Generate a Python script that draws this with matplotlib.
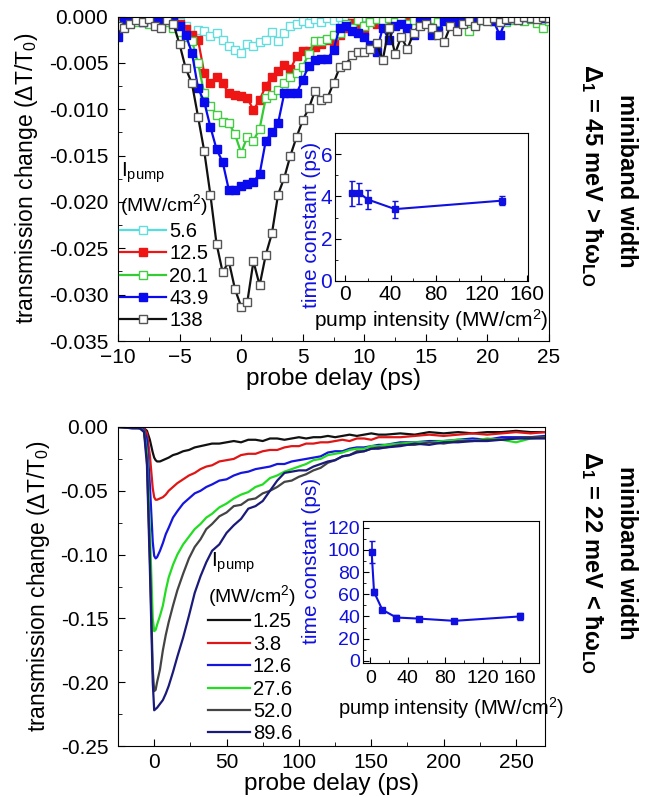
import numpy as np
import matplotlib
matplotlib.use("Agg")
import matplotlib.pyplot as plt
from matplotlib.ticker import MultipleLocator, FormatStrFormatter

plt.rcParams["font.family"] = ["Liberation Sans", "DejaVu Sans"]
plt.rcParams["mathtext.fontset"] = "custom"
plt.rcParams["mathtext.rm"] = "Liberation Sans"
plt.rcParams["mathtext.it"] = "Liberation Sans:italic"

# ---------------- top panel: 45 meV miniband, delay grid in ps ----------------
delay_top = np.arange(-10, 25.01, 0.5)

labels_top = ["5.6", "12.5", "20.1", "43.9", "138"]

dt_5p6 = [-0.0002, -0.0004, -0.0001, -0.0003, -0.0002, -0.0005, -0.0001, -0.0003, -0.0004, -0.0002,
          -0.0006, -0.0010, -0.0021, -0.0015, -0.0016, -0.0021, -0.0018, -0.0025, -0.0032, -0.0036,
          -0.0039, -0.0030, -0.0032, -0.0028, -0.0025, -0.0017, -0.0026, -0.0018, -0.0010, -0.0008,
          -0.0005, -0.0007, -0.0003, -0.0006, -0.0002, -0.0004, -0.0001, -0.0003, -0.0005, -0.0002,
          -0.0001, -0.0004, -0.0002, -0.0003, -0.0001, -0.0002, -0.0004, -0.0001, -0.0002, -0.0003,
          -0.0001, -0.0002, -0.0001, -0.0003, -0.0002, -0.0001, -0.0002, -0.0001, -0.0003, -0.0001,
          -0.0002, -0.0001, -0.0002, -0.0001, -0.0001, -0.0002, -0.0001, -0.0002, -0.0001, -0.0001,
          -0.0002]

dt_12p5 = [-0.0003, -0.0002, -0.0005, -0.0003, -0.0001, -0.0004, -0.0002, -0.0006, -0.0002, -0.0005,
           -0.0008, -0.0014, -0.0020, -0.0025, -0.0061, -0.0072, -0.0065, -0.0072, -0.0083, -0.0085,
           -0.0086, -0.0088, -0.0101, -0.0090, -0.0075, -0.0065, -0.0059, -0.0052, -0.0057, -0.0043,
           -0.0037, -0.0037, -0.0033, -0.0030, -0.0025, -0.0027, -0.0020, -0.0012, -0.0007, -0.0010,
           -0.0016, -0.0005, -0.0008, -0.0003, -0.0010, -0.0004, -0.0003, -0.0006, -0.0002, -0.0004,
           -0.0002, -0.0005, -0.0001, -0.0003, -0.0002, -0.0004, -0.0001, -0.0002, -0.0003, -0.0001,
           -0.0002, -0.0004, -0.0001, -0.0002, -0.0001, -0.0003, -0.0001, -0.0002, -0.0001, -0.0002,
           -0.0001]

dt_20p1 = [-0.0008, -0.0004, -0.0002, -0.0006, -0.0003, -0.0008, -0.0005, -0.0010, -0.0006, -0.0012,
           -0.0017, -0.0022, -0.0026, -0.0050, -0.0083, -0.0096, -0.0106, -0.0114, -0.0115, -0.0127,
           -0.0147, -0.0130, -0.0134, -0.0121, -0.0088, -0.0085, -0.0079, -0.0072, -0.0065, -0.0061,
           -0.0054, -0.0040, -0.0026, -0.0026, -0.0024, -0.0020, -0.0018, -0.0008, -0.0012, -0.0004,
           -0.0010, -0.0006, -0.0003, -0.0005, -0.0002, -0.0006, -0.0003, -0.0008, -0.0004, -0.0002,
           -0.0005, -0.0003, -0.0006, -0.0004, -0.0002, -0.0005, -0.0003, -0.0016, -0.0008, -0.0004,
           -0.0002, -0.0005, -0.0003, -0.0006, -0.0004, -0.0002, -0.0005, -0.0003, -0.0007, -0.0012,
           -0.0005]

dt_43p9 = [-0.0022, -0.0005, -0.0004, -0.0002, -0.0006, -0.0002, -0.0004, -0.0005, -0.0003, -0.0005,
           -0.0010, -0.0020, -0.0039, -0.0077, -0.0092, -0.0119, -0.0143, -0.0157, -0.0187, -0.0187,
           -0.0183, -0.0181, -0.0178, -0.0170, -0.0134, -0.0125, -0.0115, -0.0083, -0.0083, -0.0083,
           -0.0068, -0.0053, -0.0047, -0.0046, -0.0046, -0.0036, -0.0012, -0.0010, -0.0016, -0.0018,
           -0.0022, -0.0031, -0.0038, -0.0012, -0.0025, -0.0010, -0.0008, -0.0012, -0.0020, -0.0006,
           -0.0004, -0.0020, -0.0016, -0.0005, -0.0003, -0.0006, -0.0002, -0.0004, -0.0006, -0.0003,
           -0.0002, -0.0005, -0.0020, -0.0004, -0.0002, -0.0003, -0.0001, -0.0002, -0.0001, -0.0002,
           -0.0001]

dt_138 = [-0.0010, -0.0012, -0.0008, -0.0004, -0.0006, -0.0003, -0.0010, -0.0012, -0.0004, -0.0008,
          -0.0030, -0.0056, -0.0072, -0.0108, -0.0145, -0.0192, -0.0245, -0.0276, -0.0264, -0.0294,
          -0.0313, -0.0308, -0.0264, -0.0290, -0.0257, -0.0234, -0.0192, -0.0174, -0.0150, -0.0130,
          -0.0112, -0.0099, -0.0080, -0.0090, -0.0088, -0.0072, -0.0055, -0.0052, -0.0042, -0.0038,
          -0.0038, -0.0035, -0.0029, -0.0047, -0.0012, -0.0040, -0.0022, -0.0035, -0.0018, -0.0010,
          -0.0008, -0.0012, -0.0020, -0.0027, -0.0010, -0.0016, -0.0008, -0.0005, -0.0010, -0.0004,
          -0.0005, -0.0002, -0.0006, -0.0003, -0.0002, -0.0004, -0.0001, -0.0002, -0.0003, -0.0001,
          -0.0002]

# inset: time constant vs pump intensity
pump_top = [5.6, 12.5, 20.1, 43.9, 138]
tau_top = [4.15, 4.15, 3.85, 3.4, 3.8]
tau_top_err = [0.6, 0.5, 0.45, 0.4, 0.2]

# ---------------- bottom panel: 22 meV miniband ----------------
delay_bot = [-25, -15, -10, -7, -5, -3, -1, 0, 1, 2, 4, 6, 8, 10, 13, 16, 20, 24, 28, 32,
             36, 40, 45, 50, 55, 60, 65, 70, 75, 80, 85, 90, 95, 100, 105, 110, 115, 120, 125, 130,
             135, 140, 145, 150, 155, 160, 170, 180, 190, 200, 210, 220, 230, 240, 250, 260, 270]

labels_bot = ["1.25", "3.8", "12.6", "27.6", "52.0", "89.6"]

dt_1p25 = [0.000, 0.000, 0.000, -0.001, -0.003, -0.010, -0.020, -0.024, -0.026, -0.027,
           -0.027, -0.026, -0.025, -0.024, -0.022, -0.021, -0.019, -0.018, -0.016, -0.015,
           -0.014, -0.013, -0.013, -0.012, -0.011, -0.012, -0.010, -0.010, -0.011, -0.009,
           -0.009, -0.010, -0.009, -0.008, -0.009, -0.008, -0.008, -0.007, -0.008, -0.007,
           -0.006, -0.007, -0.006, -0.005, -0.006, -0.006, -0.005, -0.006, -0.004, -0.005,
           -0.004, -0.005, -0.004, -0.004, -0.003, -0.004, -0.004]

dt_3p8 = [0.000, 0.000, 0.000, -0.001, -0.005, -0.022, -0.048, -0.055, -0.057, -0.057,
          -0.056, -0.055, -0.053, -0.050, -0.047, -0.044, -0.041, -0.038, -0.036, -0.033,
          -0.031, -0.030, -0.027, -0.026, -0.025, -0.022, -0.021, -0.021, -0.019, -0.018,
          -0.018, -0.016, -0.015, -0.015, -0.013, -0.013, -0.012, -0.012, -0.011, -0.010,
          -0.011, -0.009, -0.009, -0.010, -0.008, -0.008, -0.008, -0.007, -0.006, -0.007,
          -0.006, -0.005, -0.006, -0.005, -0.004, -0.005, -0.004]

dt_12p6 = [0.000, 0.000, -0.001, -0.002, -0.010, -0.045, -0.090, -0.101, -0.103, -0.102,
           -0.097, -0.091, -0.084, -0.079, -0.071, -0.066, -0.060, -0.056, -0.052, -0.050,
           -0.047, -0.045, -0.042, -0.041, -0.038, -0.036, -0.035, -0.033, -0.032, -0.031,
           -0.029, -0.029, -0.027, -0.026, -0.025, -0.024, -0.023, -0.020, -0.019, -0.019,
           -0.017, -0.016, -0.016, -0.015, -0.014, -0.014, -0.012, -0.012, -0.011, -0.011,
           -0.010, -0.009, -0.010, -0.008, -0.008, -0.008, -0.007]

dt_27p6 = [0.000, 0.000, -0.001, -0.003, -0.020, -0.080, -0.150, -0.160, -0.159, -0.155,
           -0.148, -0.140, -0.128, -0.118, -0.108, -0.100, -0.092, -0.086, -0.080, -0.076,
           -0.071, -0.068, -0.063, -0.060, -0.056, -0.053, -0.051, -0.047, -0.045, -0.040,
           -0.038, -0.035, -0.033, -0.031, -0.029, -0.026, -0.025, -0.022, -0.021, -0.020,
           -0.018, -0.017, -0.017, -0.015, -0.015, -0.014, -0.013, -0.012, -0.012, -0.011,
           -0.010, -0.011, -0.009, -0.010, -0.012, -0.009, -0.008]

dt_52p0 = [0.000, -0.001, -0.001, -0.003, -0.025, -0.100, -0.190, -0.207, -0.206, -0.200,
           -0.190, -0.175, -0.163, -0.153, -0.140, -0.128, -0.115, -0.103, -0.094, -0.088,
           -0.080, -0.076, -0.070, -0.067, -0.062, -0.061, -0.057, -0.056, -0.052, -0.050,
           -0.047, -0.043, -0.042, -0.039, -0.037, -0.034, -0.032, -0.028, -0.026, -0.023,
           -0.022, -0.019, -0.019, -0.017, -0.016, -0.016, -0.014, -0.014, -0.012, -0.013,
           -0.011, -0.011, -0.010, -0.010, -0.009, -0.008, -0.008]

dt_89p6 = [0.000, -0.001, -0.001, -0.004, -0.030, -0.110, -0.200, -0.222, -0.221, -0.220,
           -0.217, -0.214, -0.209, -0.203, -0.192, -0.180, -0.165, -0.148, -0.130, -0.117,
           -0.106, -0.097, -0.092, -0.083, -0.077, -0.072, -0.064, -0.062, -0.058, -0.050,
           -0.042, -0.036, -0.035, -0.034, -0.034, -0.031, -0.029, -0.027, -0.026, -0.023,
           -0.022, -0.020, -0.019, -0.017, -0.017, -0.016, -0.015, -0.013, -0.014, -0.012,
           -0.012, -0.011, -0.011, -0.010, -0.009, -0.009, -0.009]

pump_bot = [1.25, 3.8, 12.6, 27.6, 52.0, 89.6, 160]
tau_bot = [98, 62, 46, 39, 38, 36, 40]
tau_bot_err = [10, 3, 1.5, 2.5, 1.5, 1.5, 3]

W, H = 652, 797
fig = plt.figure(figsize=(W / 100, H / 100), dpi=100)


def fbox(l, t, r, b):
    # pixel box -> figure fraction rect
    return [l / W, 1 - b / H, (r - l) / W, (b - t) / H]


blue = "#1010e0"
title_units = "(MW/cm$^\\mathregular{2}$)"


def style_main(ax):
    ax.tick_params(which="both", direction="in", top=False, right=False)
    ax.tick_params(axis="x", labelsize=15, pad=5)
    ax.tick_params(axis="y", labelsize=15, pad=7)
    ax.tick_params(which="major", length=5)
    ax.tick_params(which="minor", length=3)
    ax.set_xlabel("probe delay (ps)", fontsize=17.5, labelpad=1)
    ax.set_ylabel("transmission change (ΔT/T$_\\mathregular{0}$)", fontsize=16.5, labelpad=6)


def style_inset(ax, fs_tick, fs_lab, xpad, lpad):
    ax.tick_params(which="both", direction="in", top=False, right=False)
    ax.tick_params(axis="x", labelsize=fs_tick, pad=xpad)
    ax.tick_params(axis="y", labelsize=fs_tick, pad=2, labelcolor=blue)
    ax.tick_params(which="major", length=4)
    ax.tick_params(which="minor", length=2)
    ax.xaxis.set_major_locator(MultipleLocator(40))
    ax.xaxis.set_minor_locator(MultipleLocator(20))
    ax.set_xlabel("pump intensity (MW/cm$^\\mathregular{2}$)", fontsize=fs_lab, labelpad=lpad)


# ---- top main axes ----
ax1 = fig.add_axes(fbox(118, 16.5, 549, 341))
top_series = [dt_5p6, dt_12p5, dt_20p1, dt_43p9, dt_138]
top_colors = ["#55dede", "#ee1515", "#33cc33", "#0a0aee", "#111111"]
top_face = ["white", "#ee1515", "white", "#0a0aee", "white"]
top_edge = ["#66dddd", "#ee1515", "#44cc44", "#0a0aee", "#555555"]
for y, lab, c, fc, ec in zip(top_series, labels_top, top_colors, top_face, top_edge):
    ax1.plot(delay_top, y, color=c, lw=1.6, marker="s", ms=5.5, mfc=fc, mec=ec,
             mew=1.0, label=lab)
ax1.set_xlim(-10, 25)
ax1.set_ylim(-0.035, 0.0)
ax1.xaxis.set_major_locator(MultipleLocator(5))
ax1.xaxis.set_minor_locator(MultipleLocator(2.5))
ax1.yaxis.set_major_locator(MultipleLocator(0.005))
ax1.yaxis.set_minor_locator(MultipleLocator(0.0025))
ax1.yaxis.set_major_formatter(FormatStrFormatter("%.3f"))
style_main(ax1)
ax1.text(0.008, 0.52, "I$_\\mathregular{pump}$", transform=ax1.transAxes, fontsize=15,
         ha="left", va="center")
ax1.legend(loc="upper left", bbox_to_anchor=(0.004, 0.458), frameon=False,
           fontsize=14.5, title=title_units, title_fontsize=14, handlelength=2.3,
           handletextpad=0.15, labelspacing=0.17, borderpad=0.0, borderaxespad=0.0,
           alignment="left")

# ---- top inset ----
ax1i = fig.add_axes(fbox(335, 133, 528, 281))
ax1i.errorbar(pump_top, tau_top, yerr=tau_top_err, color=blue, lw=1.5, marker="s", ms=4,
              capsize=2.5, elinewidth=1.2)
ax1i.set_xlim(-9, 161)
ax1i.set_ylim(0, 7)
ax1i.yaxis.set_major_locator(MultipleLocator(2))
ax1i.yaxis.set_minor_locator(MultipleLocator(1))
style_inset(ax1i, 15, 15, 3, 2)
ax1i.set_ylabel("time constant (ps)", color=blue, fontsize=15)
ax1i.yaxis.set_label_coords(-0.075, 0.38)

# ---- bottom main axes ----
ax2 = fig.add_axes(fbox(118, 427, 545, 746))
bot_series = [dt_1p25, dt_3p8, dt_12p6, dt_27p6, dt_52p0, dt_89p6]
bot_colors = ["#111111", "#e01515", "#1515e0", "#22dd22", "#444444", "#1a1a7a"]
for y, lab, c in zip(bot_series, labels_bot, bot_colors):
    ax2.plot(delay_bot, y, color=c, lw=1.6, label=lab)
ax2.set_xlim(-25, 270)
ax2.set_ylim(-0.25, 0.0)
ax2.xaxis.set_major_locator(MultipleLocator(50))
ax2.xaxis.set_minor_locator(MultipleLocator(25))
ax2.yaxis.set_major_locator(MultipleLocator(0.05))
ax2.yaxis.set_minor_locator(MultipleLocator(0.025))
ax2.yaxis.set_major_formatter(FormatStrFormatter("%.2f"))
style_main(ax2)
ax2.text(0.218, 0.574, "I$_\\mathregular{pump}$", transform=ax2.transAxes, fontsize=15,
         ha="left", va="center")
ax2.legend(loc="upper left", bbox_to_anchor=(0.21, 0.511), frameon=False,
           fontsize=14.5, title=title_units, title_fontsize=14, handlelength=2.1,
           handletextpad=0.15, labelspacing=0.17, borderpad=0.0, borderaxespad=0.0,
           alignment="left")

# ---- bottom inset ----
ax2i = fig.add_axes(fbox(363, 521, 539, 663))
ax2i.errorbar(pump_bot, tau_bot, yerr=tau_bot_err, color=blue, lw=1.5, marker="s", ms=4,
              capsize=2.5, elinewidth=1.2)
ax2i.set_xlim(-8, 180)
ax2i.set_ylim(-2, 126)
ax2i.yaxis.set_major_locator(MultipleLocator(20))
ax2i.yaxis.set_minor_locator(MultipleLocator(10))
style_inset(ax2i, 14, 14.5, 5, 6)
ax2i.set_ylabel("time constant (ps)", color=blue, fontsize=15)
ax2i.yaxis.set_label_coords(-0.24, 0.72)

# ---- right-hand annotations ----
ann = dict(rotation=270, ha="center", va="center", fontsize=17, fontweight="bold")
fig.text(627 / W, 1 - 181 / H, "miniband width", **ann)
fig.text(592 / W, 1 - 175 / H, "Δ$_\\mathregular{1}$ = 45 meV > ħω$_\\mathregular{LO}$", **ann)
fig.text(627 / W, 1 - 553 / H, "miniband width", **ann)
fig.text(592 / W, 1 - 562 / H, "Δ$_\\mathregular{1}$ = 22 meV < ħω$_\\mathregular{LO}$", **ann)

fig.savefig("out.png", dpi=100)
